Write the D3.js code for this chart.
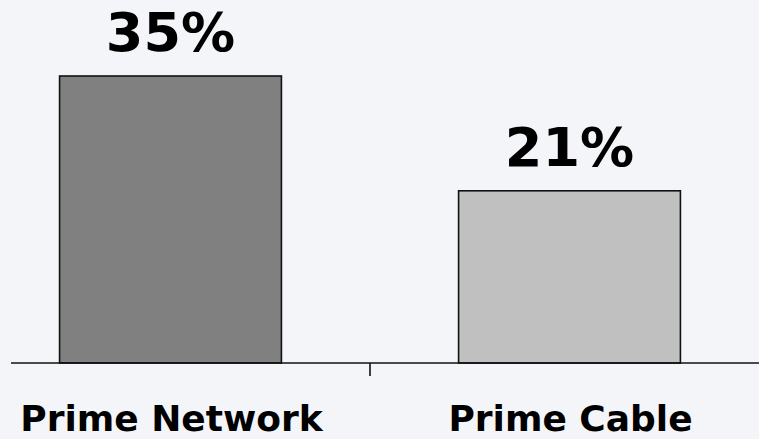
<!DOCTYPE html>
<html>
<head>
<meta charset="utf-8">
<script src="https://cdn.jsdelivr.net/npm/d3@7"></script>
<style>
  html, body { margin: 0; padding: 0; background: #f4f5f9; }
  svg { display: block; }
</style>
</head>
<body>
<svg id="chart" width="759" height="439"></svg>
<script>
const categories = ["Prime Network", "Prime Cable"];
const values = [35, 21];
const valueLabels = ["35%", "21%"];
const barColors = ["#808080", "#c0c0c0"];

const W = 759, H = 439;
const baseY = 363;

const svg = d3.select("#chart");
svg.append("rect").attr("width", W).attr("height", H).attr("fill", "#f4f5f9");

const x = d3.scaleBand()
  .domain(categories)
  .range([-29, 769])
  .paddingInner(0.444)
  .paddingOuter(0.222);

const y = d3.scaleLinear()
  .domain([0, 35])
  .range([baseY, 76]);

const font = "'DejaVu Sans', Verdana, sans-serif";

// bars
svg.selectAll("rect.bar")
  .data(categories)
  .join("rect")
  .attr("class", "bar")
  .attr("x", d => x(d))
  .attr("width", x.bandwidth())
  .attr("y", (d, i) => y(values[i]))
  .attr("height", (d, i) => baseY - y(values[i]))
  .attr("fill", (d, i) => barColors[i])
  .attr("stroke", "#111")
  .attr("stroke-width", 1.6);

// category axis line and middle tick
svg.append("line")
  .attr("x1", 11).attr("x2", W)
  .attr("y1", baseY).attr("y2", baseY)
  .attr("stroke", "#111").attr("stroke-width", 1.6);

const boundary = x(categories[1]) - x.step() * x.paddingInner() / 2;
svg.append("line")
  .attr("x1", boundary).attr("x2", boundary)
  .attr("y1", baseY).attr("y2", baseY + 13)
  .attr("stroke", "#111").attr("stroke-width", 1.6);

// value labels
svg.selectAll("text.val")
  .data(categories)
  .join("text")
  .attr("class", "val")
  .attr("x", d => x(d) + x.bandwidth() / 2)
  .attr("y", (d, i) => y(values[i]) - 25)
  .attr("text-anchor", "middle")
  .attr("font-family", font)
  .attr("font-weight", "bold")
  .attr("font-size", 54)
  .attr("fill", "#000")
  .text((d, i) => valueLabels[i]);

// category labels
svg.selectAll("text.cat")
  .data(categories)
  .join("text")
  .attr("class", "cat")
  .attr("x", d => x(d) + x.bandwidth() / 2 + 1)
  .attr("y", 431)
  .attr("text-anchor", "middle")
  .attr("font-family", font)
  .attr("font-weight", "bold")
  .attr("font-size", 36)
  .attr("fill", "#000")
  .text(d => d);
</script>
</body>
</html>
